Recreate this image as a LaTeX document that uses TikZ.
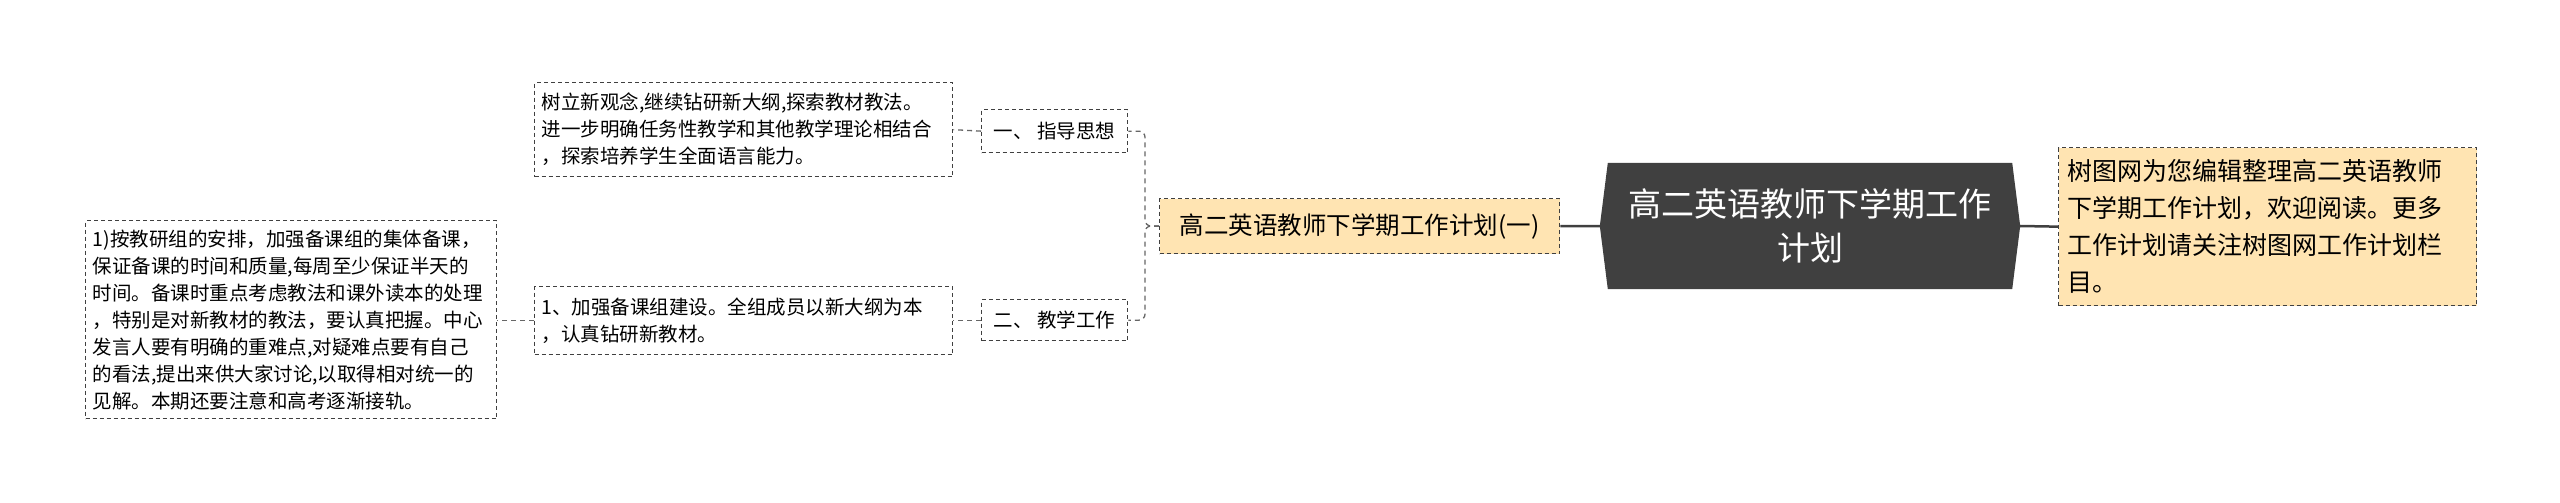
\documentclass[tikz,border=0pt]{standalone}
\usepackage{fontspec}
\setmainfont{Noto Sans CJK SC}
\definecolor{peach}{RGB}{255,228,178}
\begin{document}
\begin{tikzpicture}[x=1pt,y=-1pt,
  box/.style={draw=black!75,dashed,line width=1.3pt,dash pattern=on 4pt off 3pt,inner sep=0pt,anchor=north west},
  small/.style={font=\fontsize{19.5}{27}\selectfont,align=left},
  link/.style={draw=black!60,line width=1.3pt,dash pattern=on 5pt off 4pt,rounded corners=6pt},
  solidlink/.style={draw=black!75,line width=2.5pt},
  roottext/.style={inner sep=0pt,minimum width=420pt,minimum height=126pt,font=\fontsize{33}{44}\selectfont,text=white,align=center}]
\useasboundingbox (0,0) rectangle (2560,503);
% root
\node[roottext] (root) at (1810,226) {高二英语教师下学期工作\\计划};
\fill[black!75] ([xshift=8pt]root.north west) -- ([xshift=-8pt]root.north east) -- (root.east) -- ([xshift=-8pt]root.south east) -- ([xshift=8pt]root.south west) -- (root.west) -- cycle;
\node[roottext] at (1810,226) {高二英语教师下学期工作\\计划};
% note
\node[box,fill=peach,minimum width=418pt,minimum height=158pt,text width=400pt,inner xsep=9pt,font=\fontsize{25}{37}\selectfont,align=left] (note) at (2058,147) {树图网为您编辑整理高二英语教师\\下学期工作计划，欢迎阅读。更多\\工作计划请关注树图网工作计划栏\\目。};
% branch
\node[box,fill=peach,minimum width=400pt,minimum height=55pt,font=\fontsize{24.5}{30}\selectfont] (br) at (1159,198) {高二英语教师下学期工作计划(一)};
% level 2
\node[box,minimum width=146pt,minimum height=43pt,small] (g1) at (981,109) {一、 指导思想};
\node[box,minimum width=146pt,minimum height=41pt,small] (g2) at (981,299) {二、 教学工作};
% level 3
\node[box,minimum width=418pt,minimum height=94pt,small,text width=404pt,inner xsep=7pt] (t1) at (534,82) {树立新观念,继续钻研新大纲,探索教材教法。\\进一步明确任务性教学和其他教学理论相结合\\，探索培养学生全面语言能力。};
\node[box,minimum width=418pt,minimum height=68pt,small,text width=404pt,inner xsep=7pt] (t2) at (534,286) {1、加强备课组建设。全组成员以新大纲为本\\，认真钻研新教材。};
\node[box,minimum width=411pt,minimum height=198pt,small,text width=397pt,inner xsep=7pt] (t3) at (85,220) {1)按教研组的安排，加强备课组的集体备课，\\保证备课的时间和质量,每周至少保证半天的\\时间。备课时重点考虑教法和课外读本的处理\\，特别是对新教材的教法，要认真把握。中心\\发言人要有明确的重难点,对疑难点要有自己\\的看法,提出来供大家讨论,以取得相对统一的\\见解。本期还要注意和高考逐渐接轨。};
% connectors
\draw[solidlink] (root.west) -- (br.east);
\draw[solidlink] (root.east) -- (note.west);
\draw[link] (br.west) -- (1145,226) |- (g1.east);
\draw[link] (br.west) -- (1145,226) |- (g2.east);
\draw[link] (g1.west) -- (t1.east);
\draw[link] (g2.west) -- (g2.west -| t2.east);
\draw[link] (t2.west) -- (t2.west -| t3.east);
\end{tikzpicture}
\end{document}
